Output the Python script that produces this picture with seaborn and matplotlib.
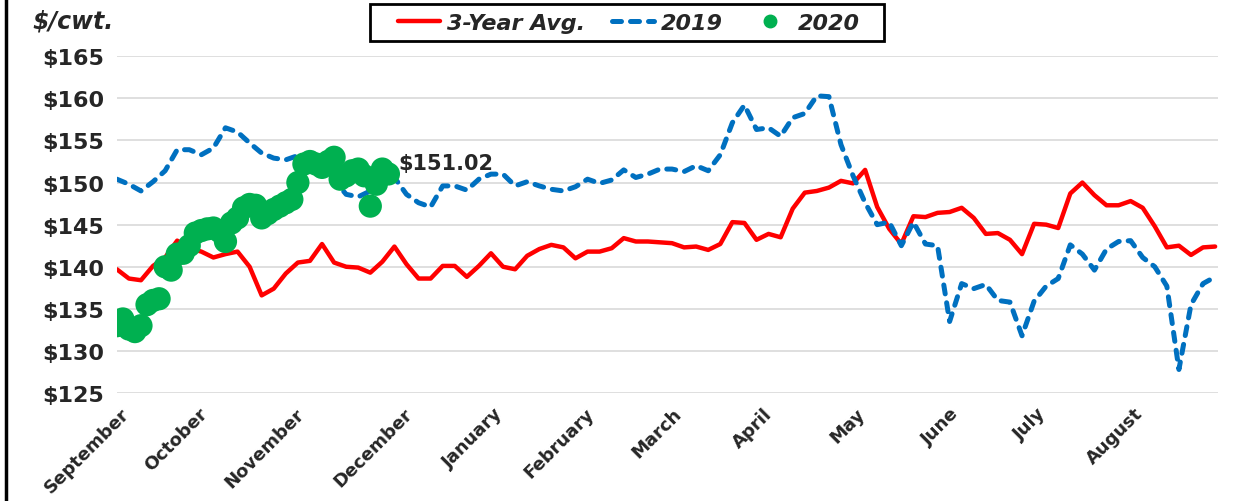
import pandas as pd
import seaborn as sns
import matplotlib.pyplot as plt
from matplotlib.lines import Line2D
from matplotlib.patches import Rectangle

# values every 4 days from Sep 1 (marketing year Sep-Aug)
avg_3yr = [139.7, 138.6, 138.4, 140.1, 141.1, 143.1, 142.2, 141.8, 141.1, 141.5, 141.8, 140.0, 136.6, 137.4, 139.2, 140.5,
           140.7, 142.7, 140.5, 140.0, 139.9, 139.3, 140.6, 142.4, 140.3, 138.6, 138.6, 140.1, 140.1, 138.8, 140.1,
           141.6, 140.0, 139.7, 141.3, 142.1, 142.6, 142.3, 141.0, 141.8, 141.8, 142.2, 143.4, 143.0, 143.0, 142.9,
           142.8, 142.3, 142.4, 142.0, 142.7, 145.3, 145.2, 143.2, 143.9, 143.5, 146.9, 148.8, 149.0, 149.4, 150.2,
           149.9, 151.5, 147.1, 144.5, 142.7, 146.0, 145.9, 146.4, 146.5, 147.0, 145.8, 143.9, 144.0, 143.2, 141.5, 145.1,
           145.0, 144.6, 148.7, 150.0, 148.5, 147.3, 147.3, 147.8, 147.0, 144.8, 142.3, 142.5, 141.4, 142.3, 142.4]
y2019 = [150.4, 149.8, 149.0, 150.1, 151.4, 153.9, 153.9, 153.3, 154.1, 156.5, 156.0, 154.7, 153.5, 152.9, 152.7, 153.2,
         152.5, 152.0, 150.3, 148.6, 148.3, 149.0, 150.0, 150.6, 148.6, 147.6, 147.1, 149.6, 149.6, 149.1, 150.4,
         151.0, 151.0, 149.6, 150.1, 149.6, 149.2, 149.0, 149.5, 150.4, 149.9, 150.3, 151.5, 150.6, 151.0, 151.6,
         151.6, 151.3, 152.0, 151.4, 153.3, 157.1, 159.2, 156.3, 156.5, 155.5, 157.7, 158.2, 160.3, 160.2, 154.5,
         150.8, 147.6, 145.0, 145.3, 142.5, 145.3, 142.7, 142.5, 133.5, 138.0, 137.4, 137.9, 136.0, 135.8, 131.8, 135.9,
         137.7, 138.6, 142.6, 141.5, 139.6, 142.1, 143.0, 143.1, 141.1, 140.0, 137.7, 127.8, 135.5, 138.0, 138.8]
# values every 2 days from Sep 1
y2020 = [133.0, 133.8, 132.6, 132.3, 133.0, 135.5, 136.0, 136.2, 140.0, 139.6, 141.5, 141.6, 142.5, 144.0, 144.3, 144.5,
         144.6, 144.2, 143.0, 145.2, 145.8, 147.0, 147.4, 147.3, 145.8, 146.3, 146.8, 147.2, 147.6, 148.0, 150.0, 152.2,
         152.5, 152.2, 151.8, 152.5, 153.0, 150.4, 150.8, 151.4, 151.6, 150.8, 147.2, 149.8, 151.6, 151.02]

months = ['September', 'October', 'November', 'December', 'January', 'February',
          'March', 'April', 'May', 'June', 'July', 'August']
month_days = [1, 27, 59, 95, 125, 155, 184, 214, 245, 276, 305, 337]

start = pd.Timestamp('2019-09-01')
dates4 = pd.date_range(start, periods=len(avg_3yr), freq='4D')
dates2 = pd.date_range(start, periods=len(y2020), freq='2D')

sns.set_theme(style='white')
plt.rcParams['font.family'] = ['DejaVu Sans']

fig = plt.figure(figsize=(12.43, 5.02), dpi=100)
ax = fig.add_axes([0.094, 0.215, 0.886, 0.671])

ax.grid(axis='y', color='#D9D9D9', linewidth=1.2)
ax.set_axisbelow(True)

sns.lineplot(x=dates4, y=avg_3yr, ax=ax, color='#FF0000', linewidth=3.2,
             solid_joinstyle='round')
sns.lineplot(x=dates4, y=y2019, ax=ax, color='#0070C0', linewidth=3.6,
             linestyle=(0, (1.8, 1.8)), dash_capstyle='round')
sns.scatterplot(x=dates2, y=y2020, ax=ax, color='#00B050', s=280,
                edgecolor='none', zorder=3)

ax.annotate('$151.02', xy=(dates2[-1], y2020[-1]), xytext=(7, 8),
            textcoords='offset points', ha='left', va='center',
            fontsize=15, fontweight='bold')

ax.set_xlim(start, start + pd.Timedelta(days=365))
ax.set_ylim(125, 165)
ax.set_yticks(range(125, 166, 5))
ax.set_yticklabels([f'${v}' for v in range(125, 166, 5)], fontsize=16, fontweight='bold')
ax.set_xticks(start + pd.to_timedelta(month_days, unit='D'))
ax.set_xticklabels(months, rotation=45, ha='right', rotation_mode='anchor',
                   fontsize=13, fontweight='bold')
ax.tick_params(axis='y', pad=9, length=0)
ax.tick_params(axis='x', pad=8, length=0)
ax.set_xlabel('')
ax.set_ylabel('')
for s in ax.spines.values():
    s.set_visible(False)

fig.text(0.026, 0.957, '$/cwt.', fontsize=17, fontweight='bold', fontstyle='italic',
         va='center', ha='left')

handles = [
    Line2D([], [], color='#FF0000', linewidth=3.2),
    Line2D([], [], color='#0070C0', linewidth=3.6, linestyle=(0, (1.8, 1.8)), dash_capstyle='round'),
    Line2D([], [], color='#00B050', marker='o', linestyle='none', markersize=9),
]
leg = fig.legend(handles, ['3-Year Avg.', '2019', '2020'], loc='center',
                 bbox_to_anchor=(0.506, 0.953), ncol=3, frameon=False,
                 prop={'size': 16, 'weight': 'bold', 'style': 'italic'},
                 handlelength=1.9, columnspacing=1.2, handletextpad=0.3,
                 borderpad=0.3)
# legend box
fig.add_artist(Rectangle((370 / 1243, 1 - 42 / 502), 514 / 1243, 37 / 502,
                         transform=fig.transFigure, fill=False,
                         edgecolor='black', linewidth=2))

# chart border on the left edge
fig.add_artist(Line2D([0.005, 0.005], [0, 1], color='black', linewidth=2.5))

fig.savefig('out.png', dpi=100)
